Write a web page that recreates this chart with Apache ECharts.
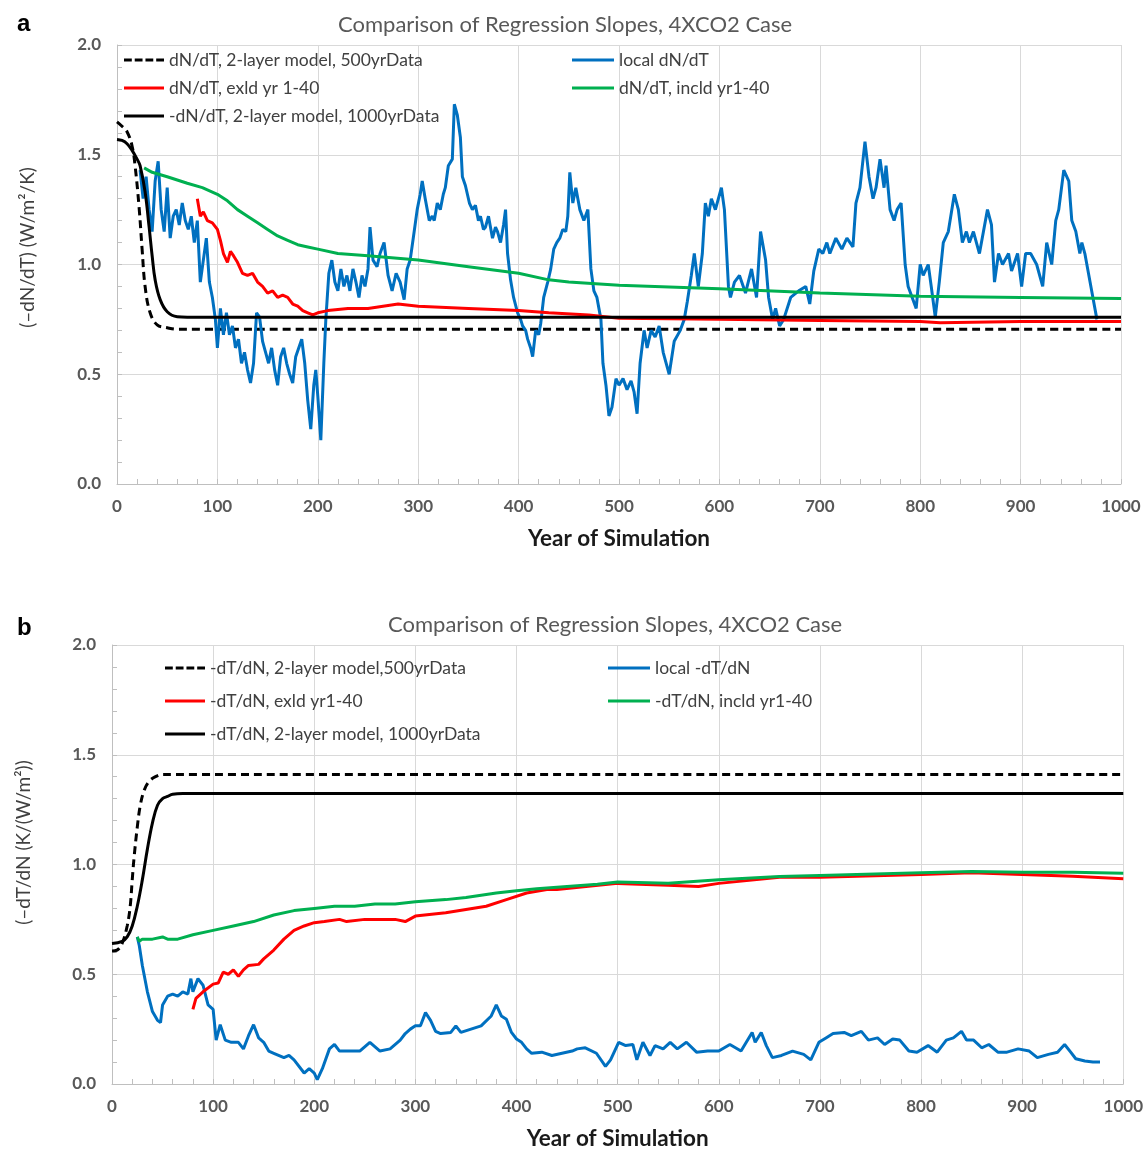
<!DOCTYPE html>
<html>
<head>
<meta charset="utf-8">
<script src="https://cdn.jsdelivr.net/npm/echarts@6.0.0/dist/echarts.min.js"></script>
<style>
  html, body { margin: 0; padding: 0; background: #fff; }
  #myChart { width: 1146px; height: 1151px; }
</style>
</head>
<body>
<div id="myChart"></div>
<script>
// ---- panel a data ----
var dashAYears = [0, 5, 10, 15, 18, 22, 25, 28, 33, 40, 50, 60, 1000];
var dashAVals  = [1.65, 1.63, 1.605, 1.54, 1.45, 1.26, 1.07, 0.90, 0.78, 0.725, 0.712, 0.705, 0.705];

var solidAYears = [0, 5, 10, 15, 20, 23, 28, 32, 35, 38, 43, 50, 60, 70, 1000];
var solidAVals  = [1.57, 1.565, 1.55, 1.52, 1.48, 1.45, 1.33, 1.17, 1.04, 0.93, 0.84, 0.785, 0.762, 0.76, 0.76];

var greenAYears = [27, 35, 50, 70, 85, 100, 110, 120, 130, 140, 150, 160, 170, 180, 190, 200, 220, 250, 300, 350, 400, 430, 450, 500, 600, 700, 800, 900, 1000];
var greenAVals  = [1.44, 1.42, 1.40, 1.37, 1.35, 1.32, 1.29, 1.25, 1.22, 1.19, 1.16, 1.13, 1.11, 1.09, 1.08, 1.07, 1.05, 1.04, 1.02, 0.99, 0.96, 0.93, 0.92, 0.905, 0.89, 0.87, 0.855, 0.85, 0.845];

var redAYears = [80, 83, 86, 90, 95, 100, 103, 106, 110, 113, 116, 120, 125, 130, 135, 140, 145, 150, 155, 160, 165, 170, 175, 180, 185, 190, 195, 200, 210, 220, 230, 250, 280, 300, 350, 400, 430, 470, 500, 600, 700, 800, 820, 900, 1000];
var redAVals  = [1.30, 1.22, 1.24, 1.20, 1.19, 1.16, 1.11, 1.05, 1.01, 1.06, 1.04, 1.01, 0.96, 0.95, 0.96, 0.92, 0.90, 0.87, 0.88, 0.85, 0.86, 0.85, 0.82, 0.81, 0.79, 0.78, 0.77, 0.78, 0.79, 0.795, 0.80, 0.80, 0.82, 0.81, 0.80, 0.79, 0.78, 0.77, 0.755, 0.75, 0.745, 0.74, 0.735, 0.74, 0.74];

var blueAYears = [23, 26, 29, 32, 35, 38, 41, 44, 47, 50, 53, 56, 59, 62, 65, 68, 71, 74, 77, 80, 83, 86, 89, 92, 95, 98, 100, 103, 106, 109, 112, 115, 118, 121, 124, 127, 130, 133, 136, 139, 142, 145, 148, 151, 154, 157, 160, 163, 166, 169, 172, 175, 178, 181, 184, 187, 190, 193, 196, 198, 200, 203, 206, 208, 211, 214, 217, 220, 223, 226, 229, 232, 235, 238, 241, 244, 247, 250, 252, 255, 259, 262, 266, 270, 274, 278, 282, 286, 289, 292, 296, 299, 302, 304, 307, 311, 314, 316, 319, 322, 325, 327, 330, 334, 336, 339, 342, 344, 347, 351, 354, 357, 360, 362, 365, 367, 370, 374, 377, 379, 382, 385, 387, 389, 392, 395, 399, 402, 404, 407, 409, 412, 414, 417, 420, 422, 425, 429, 432, 435, 438, 441, 444, 447, 449, 451, 454, 457, 461, 465, 469, 472, 475, 478, 482, 484, 487, 490, 493, 497, 500, 504, 508, 512, 515, 518, 521, 525, 528, 532, 536, 540, 544, 547, 550, 555, 561, 565, 568, 572, 575, 579, 583, 586, 589, 592, 596, 602, 605, 609, 611, 615, 620, 626, 632, 637, 641, 646, 649, 653, 656, 660, 664, 671, 679, 686, 690, 694, 699, 703, 707, 710, 716, 722, 727, 733, 736, 740, 745, 749, 753, 756, 760, 764, 766, 770, 774, 777, 781, 785, 788, 792, 796, 800, 803, 808, 811, 815, 819, 823, 828, 834, 838, 842, 846, 849, 853, 859, 863, 867, 871, 874, 878, 882, 888, 891, 897, 901, 905, 910, 916, 922, 926, 931, 935, 938, 943, 948, 951, 955, 959, 961, 964, 968, 972, 976];
var blueAVals  = [1.43, 1.30, 1.40, 1.25, 1.15, 1.38, 1.47, 1.25, 1.15, 1.35, 1.12, 1.22, 1.25, 1.18, 1.28, 1.20, 1.16, 1.22, 1.10, 1.20, 0.92, 1.02, 1.12, 0.92, 0.85, 0.75, 0.62, 0.80, 0.68, 0.78, 0.68, 0.72, 0.62, 0.66, 0.55, 0.60, 0.52, 0.46, 0.55, 0.78, 0.76, 0.65, 0.60, 0.55, 0.62, 0.52, 0.45, 0.58, 0.62, 0.55, 0.50, 0.46, 0.58, 0.62, 0.66, 0.55, 0.38, 0.25, 0.45, 0.52, 0.40, 0.20, 0.55, 0.75, 0.96, 1.02, 0.92, 0.88, 0.98, 0.90, 0.95, 0.88, 0.98, 0.92, 0.85, 0.95, 0.90, 0.98, 1.17, 1.02, 0.99, 1.05, 1.10, 0.95, 0.88, 0.96, 0.92, 0.84, 0.98, 1.02, 1.15, 1.25, 1.32, 1.38, 1.30, 1.20, 1.22, 1.20, 1.28, 1.25, 1.32, 1.35, 1.45, 1.48, 1.73, 1.68, 1.58, 1.40, 1.36, 1.28, 1.25, 1.27, 1.20, 1.22, 1.16, 1.17, 1.22, 1.12, 1.17, 1.15, 1.10, 1.18, 1.25, 1.05, 0.93, 0.85, 0.78, 0.75, 0.72, 0.70, 0.66, 0.62, 0.58, 0.70, 0.68, 0.73, 0.85, 0.92, 0.98, 1.07, 1.10, 1.12, 1.16, 1.15, 1.22, 1.42, 1.28, 1.35, 1.25, 1.20, 1.25, 0.98, 0.88, 0.85, 0.75, 0.55, 0.45, 0.31, 0.35, 0.48, 0.45, 0.48, 0.43, 0.47, 0.42, 0.32, 0.55, 0.70, 0.62, 0.70, 0.67, 0.72, 0.60, 0.55, 0.50, 0.65, 0.70, 0.75, 0.83, 0.95, 1.05, 0.90, 1.05, 1.28, 1.22, 1.30, 1.25, 1.35, 1.25, 0.90, 0.85, 0.92, 0.95, 0.87, 0.98, 0.85, 1.15, 1.02, 0.85, 0.75, 0.80, 0.72, 0.75, 0.85, 0.88, 0.90, 0.82, 0.97, 1.07, 1.05, 1.10, 1.05, 1.12, 1.07, 1.12, 1.08, 1.28, 1.35, 1.56, 1.40, 1.30, 1.35, 1.48, 1.35, 1.45, 1.25, 1.20, 1.25, 1.28, 1.00, 0.90, 0.85, 0.80, 1.00, 0.95, 1.00, 0.90, 0.76, 0.92, 1.10, 1.15, 1.32, 1.25, 1.10, 1.15, 1.10, 1.15, 1.05, 1.15, 1.25, 1.18, 0.92, 1.05, 1.00, 1.05, 0.97, 1.05, 0.90, 1.05, 1.05, 1.00, 0.90, 1.10, 1.00, 1.20, 1.25, 1.43, 1.38, 1.20, 1.15, 1.05, 1.10, 1.05, 0.95, 0.85, 0.75];

// ---- panel b data ----
var dashBYears = [0, 5, 10, 15, 18, 20, 22, 25, 28, 32, 37, 43, 50, 60, 1000];
var dashBVals  = [0.606, 0.61, 0.64, 0.72, 0.81, 0.93, 1.04, 1.17, 1.27, 1.34, 1.38, 1.40, 1.41, 1.41, 1.41];

var solidBYears = [0, 10, 15, 20, 25, 30, 35, 40, 45, 50, 55, 60, 70, 1000];
var solidBVals  = [0.64, 0.65, 0.67, 0.72, 0.81, 0.93, 1.07, 1.19, 1.27, 1.30, 1.31, 1.32, 1.323, 1.323];

var greenBYears = [25, 27, 30, 40, 50, 55, 65, 80, 100, 120, 140, 160, 180, 200, 220, 240, 260, 280, 300, 330, 350, 380, 400, 420, 450, 480, 500, 550, 600, 660, 700, 800, 850, 900, 950, 1000];
var greenBVals  = [0.67, 0.65, 0.66, 0.66, 0.67, 0.66, 0.66, 0.68, 0.70, 0.72, 0.74, 0.77, 0.79, 0.80, 0.81, 0.81, 0.82, 0.82, 0.83, 0.84, 0.85, 0.87, 0.88, 0.89, 0.90, 0.91, 0.92, 0.915, 0.93, 0.945, 0.95, 0.962, 0.968, 0.965, 0.965, 0.96];

var redBYears = [80, 83, 90, 100, 105, 110, 115, 120, 125, 130, 135, 145, 150, 160, 170, 180, 190, 200, 210, 225, 232, 250, 280, 290, 300, 330, 350, 370, 390, 410, 430, 440, 500, 550, 580, 600, 660, 700, 800, 850, 900, 950, 1000];
var redBVals  = [0.34, 0.39, 0.42, 0.455, 0.46, 0.51, 0.50, 0.52, 0.49, 0.52, 0.54, 0.545, 0.57, 0.61, 0.66, 0.70, 0.72, 0.735, 0.74, 0.75, 0.74, 0.75, 0.75, 0.74, 0.765, 0.78, 0.795, 0.81, 0.84, 0.87, 0.886, 0.886, 0.914, 0.905, 0.90, 0.914, 0.942, 0.942, 0.955, 0.962, 0.955, 0.947, 0.935];

var blueBYears = [25, 27, 30, 35, 40, 45, 48, 50, 55, 60, 65, 70, 75, 78, 80, 85, 90, 95, 100, 103, 107, 112, 118, 125, 130, 135, 140, 145, 150, 155, 160, 170, 175, 180, 190, 195, 200, 203, 208, 215, 220, 225, 235, 245, 255, 265, 275, 285, 290, 295, 300, 305, 310, 315, 320, 325, 335, 340, 345, 355, 365, 375, 380, 385, 390, 395, 400, 405, 410, 415, 425, 435, 445, 455, 460, 468, 479, 488, 493, 501, 508, 515, 519, 525, 532, 537, 545, 552, 559, 568, 578, 589, 600, 611, 622, 633, 636, 642, 647, 653, 662, 673, 684, 691, 699, 706, 713, 724, 731, 741, 748, 757, 764, 772, 779, 788, 796, 807, 816, 825, 832, 840, 845, 852, 860, 867, 876, 885, 896, 907, 915, 926, 935, 942, 948, 953, 962, 970, 977];
var blueBVals  = [0.67, 0.63, 0.54, 0.42, 0.33, 0.29, 0.28, 0.36, 0.40, 0.41, 0.40, 0.42, 0.41, 0.48, 0.42, 0.48, 0.45, 0.36, 0.34, 0.20, 0.27, 0.20, 0.19, 0.19, 0.16, 0.22, 0.27, 0.21, 0.19, 0.15, 0.14, 0.12, 0.13, 0.11, 0.05, 0.07, 0.05, 0.02, 0.07, 0.16, 0.18, 0.15, 0.15, 0.15, 0.19, 0.15, 0.16, 0.20, 0.23, 0.25, 0.265, 0.265, 0.325, 0.29, 0.24, 0.23, 0.235, 0.265, 0.235, 0.25, 0.265, 0.31, 0.36, 0.31, 0.295, 0.235, 0.205, 0.19, 0.16, 0.14, 0.145, 0.13, 0.14, 0.15, 0.16, 0.165, 0.14, 0.08, 0.11, 0.19, 0.175, 0.18, 0.11, 0.19, 0.13, 0.175, 0.16, 0.19, 0.16, 0.19, 0.145, 0.15, 0.15, 0.18, 0.15, 0.235, 0.19, 0.235, 0.175, 0.12, 0.13, 0.15, 0.135, 0.11, 0.19, 0.21, 0.23, 0.235, 0.22, 0.24, 0.20, 0.21, 0.18, 0.205, 0.20, 0.15, 0.145, 0.175, 0.145, 0.20, 0.21, 0.24, 0.20, 0.20, 0.165, 0.18, 0.145, 0.145, 0.16, 0.15, 0.12, 0.135, 0.145, 0.18, 0.145, 0.115, 0.105, 0.10, 0.10];

var titleText = 'Comparison of Regression Slopes, 4XCO2 Case';
var fontFam = 'Lato, "Open Sans", sans-serif';

// legend icons: a flat bar for solid lines, four short bars for the dashed one
var solidIcon = 'rect';
var dashIcon = 'path://M0,0h8v3h-8z M11,0h8v3h-8z M22,0h8v3h-8z M33,0h8v3h-8z';

function pairs(xs, ys) {
	return xs.map(function (x, i) { return [x, ys[i]]; });
}

function xAxisFor(idx) {
	return {
		type: 'value', gridIndex: idx, min: 0, max: 1000, interval: 100,
		name: 'Year of Simulation', nameLocation: 'middle', nameGap: 43,
		nameTextStyle: { fontSize: 22.5, fontWeight: 'bold', color: '#1a1a1a', fontFamily: fontFam },
		axisLine: { lineStyle: { color: '#bfbfbf', width: 1 } },
		axisTick: { inside: true, length: 5, lineStyle: { color: '#bfbfbf' } },
		minorTick: { show: true, splitNumber: 5, length: 5, lineStyle: { color: '#bfbfbf' } },
		axisLabel: { margin: 14, fontSize: 17, fontWeight: 'bold', color: '#595959', fontFamily: fontFam,
			formatter: function (v) { return String(v); } },
		splitLine: { show: true, lineStyle: { color: '#d9d9d9', width: 1 } }
	};
}

function yAxisFor(idx, name, gap, shift) {
	return {
		type: 'value', gridIndex: idx, min: 0, max: 2, interval: 0.5,
		name: name, nameLocation: 'middle', nameGap: gap, nameRotate: 90,
		nameTextStyle: { fontSize: 19, color: '#404040', fontFamily: fontFam, padding: [0, 0, 0, shift] },
		axisLine: { show: true, lineStyle: { color: '#bfbfbf', width: 1 } },
		axisTick: { show: true, inside: true, length: 5, lineStyle: { color: '#bfbfbf' } },
		minorTick: { show: true, splitNumber: 5, length: 5, lineStyle: { color: '#bfbfbf' } },
		axisLabel: { margin: 16, fontSize: 17, fontWeight: 'bold', color: '#595959', fontFamily: fontFam,
			formatter: function (v) { return v.toFixed(1); } },
		splitLine: { show: true, lineStyle: { color: '#d9d9d9', width: 1 } }
	};
}

function lineSeries(name, idx, xs, ys, color, dashed, smooth) {
	return {
		name: name, type: 'line', xAxisIndex: idx, yAxisIndex: idx,
		data: pairs(xs, ys), symbol: 'none', showSymbol: false, smooth: smooth ? 0.4 : false,
		lineStyle: { color: color, width: 3, type: dashed ? [8, 5] : 'solid' },
		itemStyle: { color: color }
	};
}

var legendText = { fontSize: 17.5, color: '#404040', fontFamily: fontFam };

function legendFor(left, top, gap, width, names, icons) {
	return {
		left: left, top: top, orient: 'vertical', padding: 0, itemGap: gap,
		itemWidth: width, itemHeight: 3, textStyle: legendText,
		data: names.map(function (n, i) { return { name: n, icon: icons[i] }; })
	};
}

var myChart = echarts.init(document.getElementById('myChart'));

var option = {
	animation: false,
	backgroundColor: '#fff',
	title: [
		{ text: 'a', left: 12, top: 7, textStyle: { fontSize: 24, fontWeight: 'bold', color: '#000', fontFamily: 'Liberation Sans, sans-serif' } },
		{ text: titleText, left: 333, top: 9, textStyle: { fontSize: 22, fontWeight: 'normal', color: '#595959', fontFamily: fontFam } },
		{ text: 'b', left: 12, top: 611, textStyle: { fontSize: 24, fontWeight: 'bold', color: '#000', fontFamily: 'Liberation Sans, sans-serif' } },
		{ text: titleText, left: 383, top: 609, textStyle: { fontSize: 22, fontWeight: 'normal', color: '#595959', fontFamily: fontFam } }
	],
	legend: [
		legendFor(124, 51, 10, 40,
			['dN/dT, 2-layer model, 500yrData', 'dN/dT, exld yr 1-40', '-dN/dT, 2-layer model, 1000yrData'],
			[dashIcon, solidIcon, solidIcon]),
		legendFor(572, 51, 10, 42,
			['local dN/dT', 'dN/dT, incld yr1-40'], [solidIcon, solidIcon]),
		legendFor(165, 659, 15, 40,
			['-dT/dN, 2-layer model,500yrData', '-dT/dN, exld yr1-40', '-dT/dN, 2-layer model, 1000yrData'],
			[dashIcon, solidIcon, solidIcon]),
		legendFor(608, 659, 15, 42,
			['local -dT/dN', '-dT/dN, incld yr1-40'], [solidIcon, solidIcon])
	],
	grid: [
		{ left: 117, right: 25, top: 45, height: 439 },
		{ left: 112, right: 21, top: 645, height: 440 }
	],
	xAxis: [xAxisFor(0), xAxisFor(1)],
	yAxis: [
		yAxisFor(0, '(\u2013dN/dT) (W/m\u00b2/K)', 80, 34),
		yAxisFor(1, '(\u2013dT/dN (K/(W/m\u00b2))', 79, 44)
	],
	series: [
		lineSeries('dN/dT, 2-layer model, 500yrData', 0, dashAYears, dashAVals, '#000', true, true),
		lineSeries('local dN/dT', 0, blueAYears, blueAVals, '#0070C0', false, false),
		lineSeries('dN/dT, exld yr 1-40', 0, redAYears, redAVals, '#FF0000', false, false),
		lineSeries('dN/dT, incld yr1-40', 0, greenAYears, greenAVals, '#00B050', false, false),
		lineSeries('-dN/dT, 2-layer model, 1000yrData', 0, solidAYears, solidAVals, '#000', false, true),

		lineSeries('-dT/dN, 2-layer model,500yrData', 1, dashBYears, dashBVals, '#000', true, true),
		lineSeries('local -dT/dN', 1, blueBYears, blueBVals, '#0070C0', false, false),
		lineSeries('-dT/dN, exld yr1-40', 1, redBYears, redBVals, '#FF0000', false, false),
		lineSeries('-dT/dN, incld yr1-40', 1, greenBYears, greenBVals, '#00B050', false, false),
		lineSeries('-dT/dN, 2-layer model, 1000yrData', 1, solidBYears, solidBVals, '#000', false, true)
	]
};

myChart.setOption(option);
</script>
</body>
</html>
